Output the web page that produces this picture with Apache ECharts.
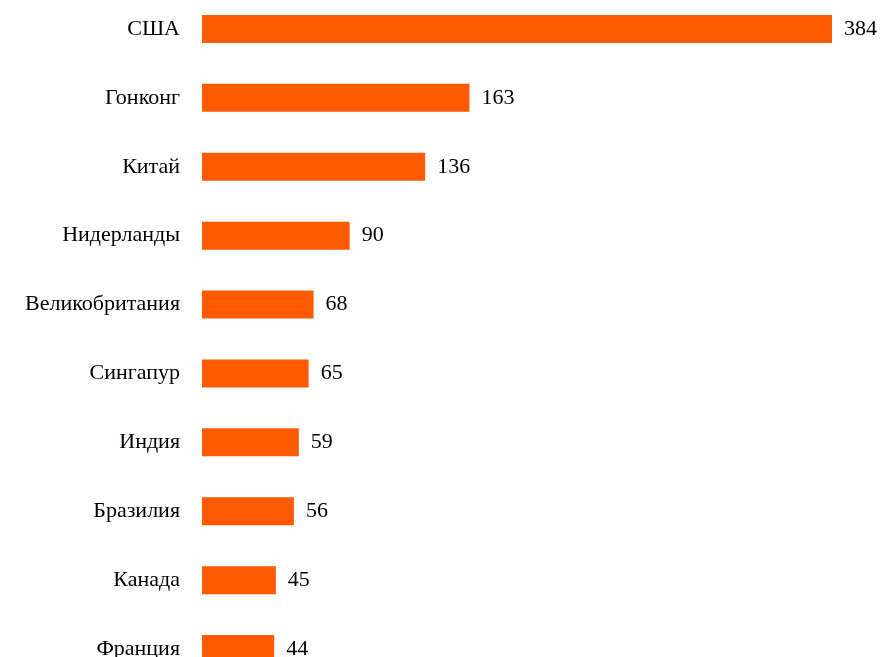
<!DOCTYPE html>
<html><head><meta charset="utf-8">
<script src="https://cdn.jsdelivr.net/npm/echarts@6/dist/echarts.min.js"></script>
<style>html,body{margin:0;padding:0;background:#fff}#c{width:881px;height:657px}</style>
</head><body><div id="c"></div>
<script>
const categories = ["США","Гонконг","Китай","Нидерланды","Великобритания","Сингапур","Индия","Бразилия","Канада","Франция"];
const values = [384,163,136,90,68,65,59,56,45,44];
const chart = echarts.init(document.getElementById('c'));
chart.setOption({
  animation:false,
  grid:{left:202, top:-5.5, width:630, height:689, outerBoundsMode:'none', containLabel:false},
  xAxis:{type:'value', min:0, max:384, show:false},
  yAxis:{type:'category', inverse:true, data:categories,
    axisLine:{show:false}, axisTick:{show:false},
    axisLabel:{margin:22, color:'#000', fontFamily:'Liberation Serif', fontSize:22}},
  series:[{type:'bar', data:values, barWidth:28,
    itemStyle:{color:'#FF5A00'},
    label:{show:true, position:'right', distance:12, color:'#000', fontFamily:'Liberation Serif', fontSize:22}}]
});
</script></body></html>
